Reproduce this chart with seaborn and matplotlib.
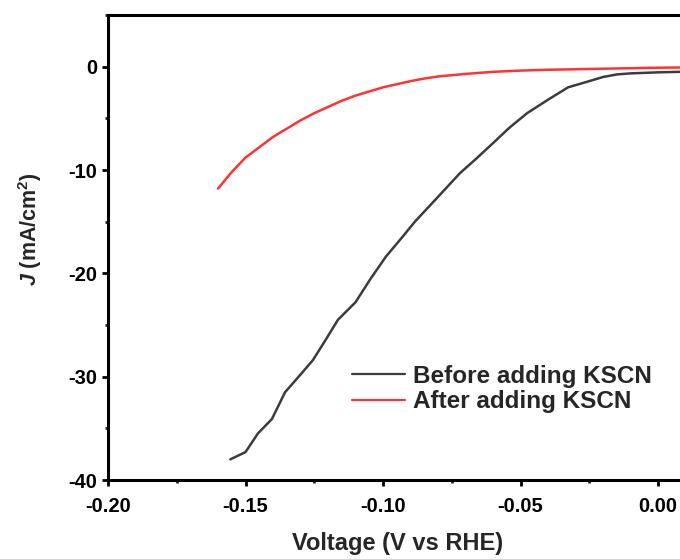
import numpy as np
import pandas as pd
import matplotlib
matplotlib.use('Agg')
import matplotlib.pyplot as plt
from matplotlib.ticker import MultipleLocator, FormatStrFormatter
import seaborn as sns

before_v = [-0.1555, -0.150, -0.1455, -0.1404, -0.1356, -0.1300, -0.1255, -0.1210, -0.1164,
            -0.1100, -0.1047, -0.0990, -0.0930, -0.0884, -0.0800, -0.0720, -0.0665, -0.0600,
            -0.0540, -0.0476, -0.0400, -0.0327, -0.0250, -0.0200, -0.0149, -0.0100, -0.0050,
            0.0, 0.008]
before_j = [-38.0, -37.3, -35.5, -34.1, -31.5, -29.8, -28.4, -26.5, -24.5,
            -22.8, -20.6, -18.4, -16.5, -15.0, -12.6, -10.3, -9.0, -7.4,
            -5.9, -4.5, -3.2, -2.0, -1.4, -1.0, -0.75, -0.65, -0.6,
            -0.55, -0.5]
after_v = [-0.160, -0.155, -0.150, -0.145, -0.140, -0.135, -0.130, -0.125, -0.120, -0.115,
           -0.110, -0.105, -0.100, -0.095, -0.090, -0.085, -0.080, -0.070, -0.060, -0.050,
           -0.040, -0.030, -0.020, -0.010, 0.000, 0.008]
after_j = [-11.8, -10.2, -8.8, -7.8, -6.8, -6.0, -5.2, -4.5, -3.9, -3.3,
           -2.8, -2.4, -2.0, -1.7, -1.4, -1.15, -0.95, -0.7, -0.5, -0.38,
           -0.3, -0.25, -0.2, -0.15, -0.1, -0.08]
labels = ['Before adding KSCN', 'After adding KSCN']
colors = ['#3c3c3c', '#ff3333']

df = pd.concat([
    pd.DataFrame({'V': before_v, 'J': before_j, 'curve': labels[0]}),
    pd.DataFrame({'V': after_v, 'J': after_j, 'curve': labels[1]}),
])

sns.set_style('white')
plt.rcParams['font.family'] = ['Liberation Sans', 'DejaVu Sans']
plt.rcParams['font.weight'] = 'bold'
plt.rcParams['axes.unicode_minus'] = False
plt.rcParams['mathtext.fontset'] = 'custom'
plt.rcParams['mathtext.rm'] = 'Liberation Sans:bold'
plt.rcParams['mathtext.it'] = 'Liberation Sans:bold:italic'
plt.rcParams['mathtext.bf'] = 'Liberation Sans:bold'

fig = plt.figure(figsize=(6.8, 5.59), dpi=100)
ax = fig.add_axes([108 / 680, 79 / 559, 605 / 680, 465 / 559])

sns.lineplot(data=df, x='V', y='J', hue='curve', palette=colors, hue_order=labels,
             estimator=None, sort=False, linewidth=1.8, ax=ax)

ax.set_xlim(-0.2, 0.02)
ax.set_ylim(-40, 5)
ax.xaxis.set_major_locator(MultipleLocator(0.05))
ax.xaxis.set_minor_locator(MultipleLocator(0.025))
ax.xaxis.set_major_formatter(FormatStrFormatter('%.2f'))
ax.yaxis.set_major_locator(MultipleLocator(10))
ax.yaxis.set_minor_locator(MultipleLocator(5))
ax.yaxis.set_major_formatter(FormatStrFormatter('%d'))

for s in ax.spines.values():
    s.set_linewidth(2.2)
    s.set_color('black')
ax.tick_params(axis='both', which='major', direction='out', length=4, width=2,
               labelsize=14.5, colors='black', left=True, bottom=True)
ax.tick_params(axis='x', which='major', pad=8)
ax.tick_params(axis='both', which='minor', direction='out', length=2.5, width=2,
               left=True, bottom=True)
for t in ax.get_xticklabels() + ax.get_yticklabels():
    t.set_fontweight('bold')

ax.set_xlabel('Voltage (V vs RHE)', fontsize=17, fontweight='bold')
ax.set_ylabel(r'$\mathit{J}$ (mA/cm$^{2}$)', fontsize=15.5, fontweight='bold')
ax.xaxis.set_label_coords(0.478, -0.112)
ax.yaxis.set_label_coords(-0.106, 0.54)

leg = ax.legend(loc='center left', bbox_to_anchor=(0.403, 0.196), frameon=False,
                borderpad=0, borderaxespad=0, handlelength=2.2, handletextpad=0.33,
                labelspacing=0.1, fontsize=17.5)
for t in leg.get_texts():
    t.set_fontweight('bold')
for line in leg.get_lines():
    line.set_linewidth(1.6)

fig.savefig('out.png', dpi=100)
